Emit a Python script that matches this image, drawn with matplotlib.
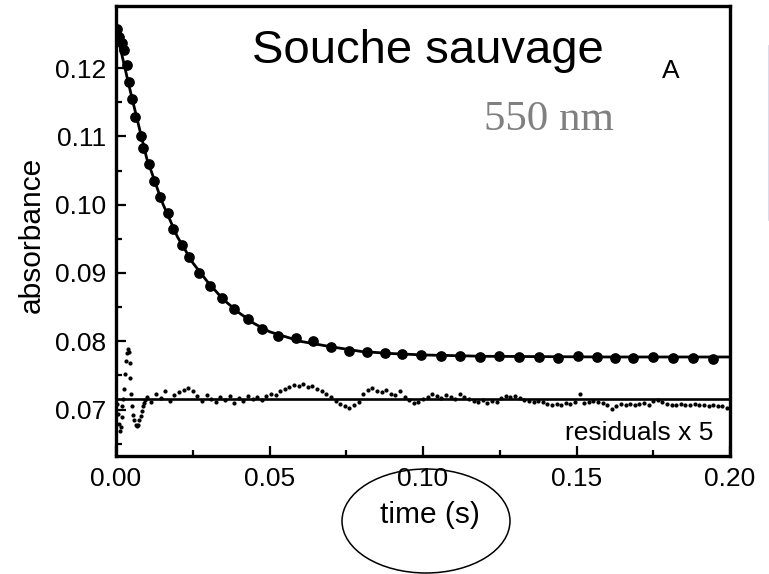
import numpy as np
import matplotlib
matplotlib.use('Agg')
import matplotlib.pyplot as plt
from matplotlib.patches import Ellipse
from matplotlib.lines import Line2D

plt.rcParams['font.family'] = ['Liberation Sans', 'DejaVu Sans']

# measured absorbance at 550 nm (dots)
t_data = [0.0003, 0.0010, 0.0020, 0.0026, 0.0036, 0.0042, 0.0052, 0.0062, 0.0081, 0.0088,
          0.0107, 0.0124, 0.0143, 0.0169, 0.0186, 0.0215, 0.0238, 0.0270, 0.0306, 0.0345,
          0.0384, 0.0430, 0.0476, 0.0528, 0.0586, 0.0642, 0.0700, 0.0759, 0.0818, 0.0876,
          0.0932, 0.0993, 0.1059, 0.1121, 0.1186, 0.1248, 0.1313, 0.1378, 0.1440, 0.1505,
          0.1567, 0.1625, 0.1684, 0.1749, 0.1814, 0.1879, 0.1945]
a_data = [0.12571, 0.12454, 0.12366, 0.12264, 0.12044, 0.11795, 0.11546, 0.11283, 0.11004, 0.10829,
          0.10594, 0.10346, 0.10111, 0.09877, 0.09643, 0.09408, 0.09233, 0.08999, 0.08809, 0.08633,
          0.08471, 0.08325, 0.08179, 0.08076, 0.08047, 0.08003, 0.07915, 0.07857, 0.07842, 0.07827,
          0.07813, 0.07798, 0.07783, 0.07783, 0.07769, 0.07783, 0.07769, 0.07769, 0.07755, 0.07783,
          0.07769, 0.07755, 0.07755, 0.07769, 0.07755, 0.07755, 0.07740]

# single exponential fit (solid line)
t_fit = [0.0, 0.0025, 0.005, 0.010, 0.015, 0.020, 0.025, 0.030, 0.035, 0.040, 0.045,
         0.050, 0.060, 0.070, 0.080, 0.090, 0.100, 0.120, 0.140, 0.160, 0.180, 0.200]
a_fit = [0.1258, 0.1208, 0.1160, 0.1068, 0.1004, 0.0953, 0.0915, 0.0886, 0.0861, 0.0842, 0.0826,
         0.0814, 0.0800, 0.0792, 0.0785, 0.0782, 0.0780, 0.0778, 0.07775, 0.0777, 0.0777, 0.0777]

# residuals (mOD), drawn x5 around an offset baseline
res_offset = 0.0716
t_res = [0.0003, 0.0006, 0.0009, 0.0012, 0.0015, 0.0018, 0.0021, 0.0024, 0.0026, 0.0029,
         0.0032, 0.0035, 0.0038, 0.0041, 0.0044, 0.0047, 0.0050, 0.0053, 0.0056, 0.0060,
         0.0064, 0.0068, 0.0072, 0.0076, 0.0080, 0.0084, 0.0088, 0.0092, 0.0096,
         0.0100, 0.0115, 0.0130, 0.0145, 0.0160, 0.0175, 0.0190, 0.0205, 0.0220, 0.0235,
         0.0250, 0.0265, 0.0280, 0.0295, 0.0310, 0.0325, 0.0340, 0.0355, 0.0370, 0.0385,
         0.0400, 0.0415, 0.0430, 0.0445, 0.0460, 0.0475, 0.0490, 0.0505, 0.0520, 0.0535,
         0.0550, 0.0565, 0.0580, 0.0595, 0.0610, 0.0625, 0.0640, 0.0655, 0.0670, 0.0685,
         0.0700, 0.0715, 0.0730, 0.0745, 0.0760, 0.0775, 0.0790, 0.0805, 0.0820, 0.0835,
         0.0850, 0.0865, 0.0880, 0.0895, 0.0910, 0.0925, 0.0940, 0.0955, 0.0970, 0.0985,
         0.1000, 0.1015, 0.1030, 0.1045, 0.1060, 0.1075, 0.1090, 0.1105, 0.1120, 0.1135,
         0.1150, 0.1165, 0.1180, 0.1195, 0.1210, 0.1225, 0.1240, 0.1255, 0.1270, 0.1285,
         0.1300, 0.1315, 0.1330, 0.1345, 0.1360, 0.1375, 0.1390, 0.1405, 0.1420, 0.1435,
         0.1450, 0.1465, 0.1480, 0.1495, 0.1510, 0.1525, 0.1540, 0.1555, 0.1570, 0.1585,
         0.1600, 0.1615, 0.1630, 0.1645, 0.1660, 0.1675, 0.1690, 0.1705, 0.1720, 0.1735,
         0.1750, 0.1765, 0.1780, 0.1795, 0.1810, 0.1825, 0.1840, 0.1855, 0.1870, 0.1885,
         0.1900, 0.1915, 0.1930, 0.1945, 0.1960, 0.1975, 0.1990]
res_mod = [-0.15, -0.44, -0.73, -0.94, -0.82, -0.53, -0.23, 0.00, 0.29, 0.73,
           1.11, 1.35, 1.46, 1.38, 1.05, 0.59, 0.15, -0.23, -0.47, -0.64,
           -0.76, -0.79, -0.76, -0.64, -0.50, -0.35, -0.23, -0.12, -0.03,
           0.06, -0.09, 0.15, 0.03, 0.21, -0.06, 0.12, 0.18, 0.26, 0.32,
           0.21, 0.09, -0.06, 0.12, 0.00, -0.09, 0.06, -0.03, 0.09, -0.12,
           0.03, -0.06, 0.09, 0.00, 0.06, -0.03, 0.09, 0.15, 0.12, 0.23,
           0.29, 0.35, 0.41, 0.38, 0.44, 0.35, 0.38, 0.29, 0.23, 0.15,
           0.06, -0.06, -0.15, -0.21, -0.26, -0.18, -0.09, 0.15, 0.26, 0.32,
           0.23, 0.18, 0.26, 0.15, 0.12, 0.21, 0.06, -0.03, -0.12, -0.09,
           0.00, 0.06, 0.15, 0.09, 0.03, 0.12, 0.06, 0.00, 0.15, 0.06,
           0.00, -0.06, -0.09, -0.03, -0.12, -0.06, -0.09, 0.03, 0.09, 0.06,
           0.09, 0.03, -0.03, -0.06, -0.09, -0.06, -0.09, -0.15, -0.18, -0.15,
           -0.18, -0.12, -0.15, -0.09, 0.15, -0.12, -0.09, -0.06, -0.09, -0.12,
           -0.18, -0.29, -0.21, -0.15, -0.18, -0.15, -0.18, -0.15, -0.12, -0.18,
           -0.06, -0.03, -0.09, -0.15, -0.18, -0.18, -0.15, -0.18, -0.18, -0.15,
           -0.18, -0.18, -0.21, -0.18, -0.21, -0.23, -0.26]

x_ticks = [0.00, 0.05, 0.10, 0.15, 0.20]
y_ticks = [0.07, 0.08, 0.09, 0.10, 0.11, 0.12]

fig = plt.figure(figsize=(7.69, 5.74), dpi=100)
ax = fig.add_axes([116 / 769, 1 - 456 / 574, 614 / 769, 450 / 574])

res_plot = [res_offset + 5 * r * 1e-3 for r in res_mod]
ax.axhline(res_offset, color='black', lw=1.9, zorder=2)
ax.plot(t_res, res_plot, 'o', ms=2.0, color='black', zorder=3)

ax.plot(t_fit, a_fit, '-', color='black', lw=2.0, zorder=2)
ax.plot(t_data, a_data, 'o', ms=6.7, color='black', zorder=3)

ax.set_xlim(0, 0.2)
ax.set_ylim(0.0632, 0.1291)
ax.set_xticks(x_ticks)
ax.set_xticklabels([f'{v:.2f}' for v in x_ticks])
ax.set_yticks(y_ticks)
ax.set_yticklabels([f'{v:.2f}' for v in y_ticks])
ax.set_xticks([0.025, 0.075, 0.125, 0.175], minor=True)
ax.set_yticks([0.065, 0.075, 0.085, 0.095, 0.105, 0.115, 0.125], minor=True)
ax.tick_params(which='both', direction='in', width=1.6, labelsize=19, colors='black')
ax.tick_params(which='major', length=7)
ax.tick_params(which='minor', length=4.5)
ax.tick_params(axis='x', pad=8)
ax.tick_params(axis='y', pad=7)
for s in ax.spines.values():
    s.set_linewidth(2.4)

ax.set_xlabel('time (s)', fontsize=21.5)
ax.set_ylabel('absorbance', fontsize=21.5)
ax.xaxis.set_label_coords(0.511, -0.1)
ax.yaxis.set_label_coords(-0.114, 0.491)

fig.text(252 / 769, 1 - 63 / 574, 'Souche sauvage', fontsize=34, ha='left', va='baseline')
fig.text(671 / 769, 1 - 78 / 574, 'A', fontsize=19, ha='center', va='baseline')
fig.text(549 / 769, 1 - 130 / 574, '550 nm', fontsize=31, ha='center', va='baseline',
         color='#808080', family=['Liberation Serif', 'DejaVu Serif'])
ax.text(0.1945, 0.0655, 'residuals x 5', fontsize=19, ha='right', va='baseline')

fig.add_artist(Ellipse((426 / 769, 1 - 521 / 574), 168 / 769, 104 / 574,
                       transform=fig.transFigure, fill=False, edgecolor='black', lw=1.1))
fig.add_artist(Line2D([768.5 / 769, 768.5 / 769], [1 - 46 / 574, 1 - 220 / 574],
                      transform=fig.transFigure, color='#d4d4ec', lw=1.2))

fig.savefig('out.png', dpi=100)
